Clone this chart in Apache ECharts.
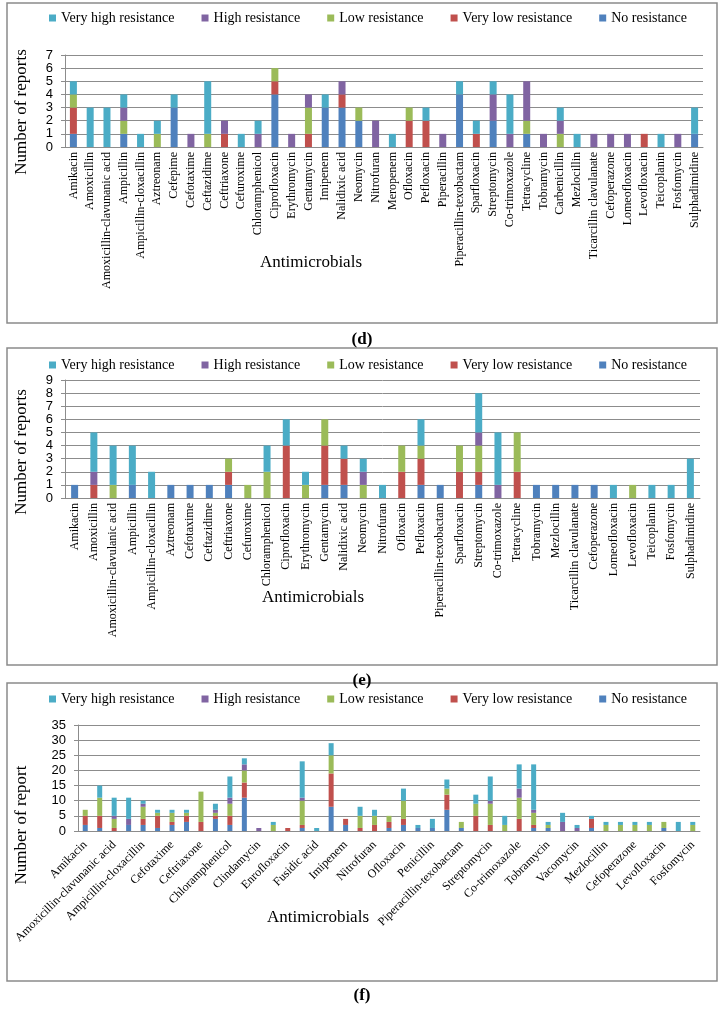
<!DOCTYPE html>
<html><head><meta charset="utf-8">
<script src="https://cdn.jsdelivr.net/npm/echarts@6/dist/echarts.min.js"></script>
<style>html,body{margin:0;padding:0;background:#fff}#c{width:724px;height:1009px}</style>
</head><body><div id="c"></div>
<script>
// ---------- Data ----------
const seriesNames = ["No resistance","Very low resistance","Low resistance","High resistance","Very high resistance"];
const legendOrder = ["Very high resistance","High resistance","Low resistance","Very low resistance","No resistance"];

// Panel (d)
const catD = ["Amikacin","Amoxicillin","Amoxicillin-clavunanic acid","Ampicillin","Ampicillin-cloxacillin","Aztreonam","Cefepime","Cefotaxime","Ceftazidime","Ceftriaxone","Cefuroxime","Chloramphenicol","Ciprofloxacin","Erythromycin","Gentamycin","Imipenem","Nalidixic acid","Neomycin","Nitrofuran","Meropenem","Ofloxacin","Pefloxacin","Piperacillin","Piperacillin-texobactam","Sparfloxacin","Streptomycin","Co-trimoxazole","Tetracycline","Tobramycin","Carbenicillin","Mezlocillin","Ticarcillin clavulanate","Cefoperazone","Lomeofloxacin","Levofloxacin","Teicoplanin","Fosfomycin","Sulphadimidine"];
const noD   = [1,0,0,1,0,0,3,0,0,0,0,0,4,0,0,3,3,2,0,0,0,0,0,4,0,2,0,1,0,0,0,0,0,0,0,0,0,1];
const vlD   = [2,0,0,0,0,0,0,0,0,1,0,0,1,0,1,0,1,0,0,0,2,2,0,0,1,0,0,0,0,0,0,0,0,0,1,0,0,0];
const lowD  = [1,0,0,1,0,1,0,0,1,0,0,0,1,0,2,0,0,1,0,0,1,0,0,0,0,0,0,1,0,1,0,0,0,0,0,0,0,0];
const highD = [0,0,0,1,0,0,0,1,0,1,0,1,0,1,1,0,1,0,2,0,0,0,1,0,0,2,1,3,1,1,0,1,1,1,0,0,1,0];
const vhD   = [1,3,3,1,1,1,1,0,4,0,1,1,0,0,0,1,0,0,0,1,0,1,0,1,1,1,3,0,0,1,1,0,0,0,0,1,0,2];

// Panel (e)
const catE = ["Amikacin","Amoxicillin","Amoxicillin-clavulanic acid","Ampicillin","Ampicillin-cloxacillin","Aztreonam","Cefotaxime","Ceftazidime","Ceftriaxone","Cefuroxime","Chloramphenicol","Ciprofloxacin","Erythromycin","Gentamycin","Nalidixic acid","Neomycin","Nitrofuran","Ofloxacin","Pefloxacin","Piperacillin-texobactam","Sparfloxacin","Streptomycin","Co-trimoxazole","Tetracycline","Tobramycin","Mezlocillin","Ticarcillin clavulanate","Cefoperazone","Lomeofloxacin","Levofloxacin","Teicoplanin","Fosfomycin","Sulphadimidine"];
const noE   = [1,0,0,1,0,1,1,1,1,0,0,0,0,1,1,0,0,0,1,1,0,1,0,0,1,1,1,1,0,0,0,0,0];
const vlE   = [0,1,0,0,0,0,0,0,1,0,0,4,0,3,2,0,0,2,2,0,2,1,0,2,0,0,0,0,0,0,0,0,0];
const lowE  = [0,0,1,0,0,0,0,0,1,1,2,0,1,2,0,1,0,2,1,0,2,2,0,3,0,0,0,0,0,1,0,0,0];
const highE = [0,1,0,0,0,0,0,0,0,0,0,0,0,0,0,1,0,0,0,0,0,1,1,0,0,0,0,0,0,0,0,0,0];
const vhE   = [0,3,3,3,2,0,0,0,0,0,2,2,1,0,1,1,1,0,2,0,0,3,4,0,0,0,0,0,1,0,1,1,3];

// Panel (f)
const catF = ["Amikacin","Amoxicillin","Amoxicillin-clavunanic acid","Ampicillin","Ampicillin-cloxacillin","Aztreonam","Cefotaxime","Ceftazidime","Ceftriaxone","Cefuroxime","Chloramphenicol","Ciprofloxacin","Clindamycin","Doxycycline","Enrofloxacin","Erythromycin","Fusidic acid","Gentamycin","Imipenem","Neomycin","Nitrofuran","Norfloxacin","Ofloxacin","Oxacillin","Penicillin","Pefloxacin","Piperacillin-texobactam","Sparfloxacin","Streptomycin","Sulphamethoxazole","Co-trimoxazole","Tetracycline","Tobramycin","Trimethoprim","Vacomycin","Carbenicillin","Mezlocillin","Ticarcillin clavulanate","Cefoperazone","Lomeofloxacin","Levofloxacin","Teicoplanin","Fosfomycin"];
const noF   = [2,1,0,2,2,1,2,3,0,4,2,11,0,0,0,1,0,8,2,0,0,1,2,1,1,7,1,0,0,0,0,1,1,0,0,1,0,0,0,0,1,0,0];
const vlF   = [3,4,1,0,2,4,1,2,3,1,3,5,0,0,1,1,0,11,2,1,2,2,2,0,0,5,0,5,2,0,4,1,0,0,0,3,0,0,0,0,0,0,0];
const lowF  = [2,6,3,0,4,1,3,1,10,1,4,4,0,2,0,8,0,6,0,4,3,2,6,0,0,2,2,4,7,2,7,4,1,0,0,0,2,2,2,2,2,0,2];
const highF = [0,0,1,2,1,0,0,0,0,1,2,2,1,0,0,1,0,0,0,0,0,0,0,0,0,0,0,0,1,0,3,1,0,3,1,0,0,0,0,0,0,0,0];
const vhF   = [0,4,6,7,1,1,1,1,0,2,7,2,0,1,0,12,1,4,0,3,2,0,4,1,3,3,0,3,8,3,8,15,1,3,1,1,1,1,1,1,0,3,1];

const yTitles = ["Number of reports","Number of reports","Number of report"];
const xTitle = "Antimicrobials";
const panelLabels = ["(d)","(e)","(f)"];

// ---------- Styling ----------
const colors = {"No resistance":"#4F81BD","Very low resistance":"#C0504D","Low resistance":"#9BBB59","High resistance":"#8064A2","Very high resistance":"#4BACC6"};
const serif = "Liberation Serif";
const sans = "Liberation Sans";
const gridCol = "#8c8c8c";

const panels = [
  {cats:catD, data:[noD,vlD,lowD,highD,vhD], grid:{left:65,top:55,width:638,height:92}, y:{max:7,interval:1}, bw:7, rot:90, intv:0, lm:5,
   frame:[7,3,710,320], legendTop:6, yT:[22,112], xT:[311,263], pl:[362,340]},
  {cats:catE, data:[noE,vlE,lowE,highE,vhE], grid:{left:65,top:380,width:635,height:118}, y:{max:9,interval:1}, bw:7, rot:90, intv:0, lm:5,
   frame:[7,348,710,317], legendTop:353, yT:[22,452], xT:[313,598], pl:[362,681]},
  {cats:catF, data:[noF,vlF,lowF,highF,vhF], grid:{left:78,top:725,width:622,height:106}, y:{max:35,interval:5}, bw:5, rot:45, intv:1, lm:12,
   frame:[7,683,710,298], legendTop:687, yT:[22,825], xT:[318,918], pl:[362,996]}
];

const option = {animation:false, grid:[], xAxis:[], yAxis:[], series:[], legend:[], graphic:[]};
panels.forEach((p,i)=>{
  option.grid.push(Object.assign({containLabel:false}, p.grid));
  option.xAxis.push({type:'category', gridIndex:i, data:p.cats,
    axisLine:{show:true, lineStyle:{color:gridCol}}, axisTick:{show:false},
    axisLabel:{interval:p.intv, rotate:p.rot, margin:p.lm, fontFamily:serif, fontSize:12, color:'#000'}});
  option.yAxis.push({type:'value', gridIndex:i, min:0, max:p.y.max, interval:p.y.interval,
    axisLine:{show:true, lineStyle:{color:gridCol}}, axisTick:{show:true, length:4, lineStyle:{color:gridCol}},
    splitLine:{show:true, lineStyle:{color:gridCol, width:1}},
    axisLabel:{fontFamily:sans, fontSize:13, color:'#000', margin:12}});
  seriesNames.forEach((n,k)=>{
    option.series.push({type:'bar', name:n, stack:'s'+i, xAxisIndex:i, yAxisIndex:i, data:p.data[k],
      barWidth:p.bw, itemStyle:{color:colors[n]}});
  });
  option.legend.push({data:legendOrder, left:44, top:p.legendTop, icon:'rect', itemWidth:7, itemHeight:7, itemGap:27,
    textStyle:{fontFamily:serif, fontSize:14, color:'#000'}});
  option.graphic.push({type:'rect', shape:{x:p.frame[0], y:p.frame[1], width:p.frame[2], height:p.frame[3]},
    style:{fill:null, stroke:'#8a8a8a', lineWidth:1.5}, z:-1});
  option.graphic.push({type:'text', x:p.yT[0], y:p.yT[1], rotation:Math.PI/2,
    style:{text:yTitles[i], font:'17px "Liberation Serif"', fill:'#000', align:'center', verticalAlign:'middle'}});
  option.graphic.push({type:'text', x:p.xT[0], y:p.xT[1],
    style:{text:xTitle, font:'17px "Liberation Serif"', fill:'#000', align:'center', verticalAlign:'middle'}});
  option.graphic.push({type:'text', x:p.pl[0], y:p.pl[1],
    style:{text:panelLabels[i], font:'bold 17px "Liberation Serif"', fill:'#000', align:'center', verticalAlign:'middle'}});
});

const chart = echarts.init(document.getElementById('c'), null, {renderer:'canvas'});
chart.setOption(option);
</script>
</body></html>
